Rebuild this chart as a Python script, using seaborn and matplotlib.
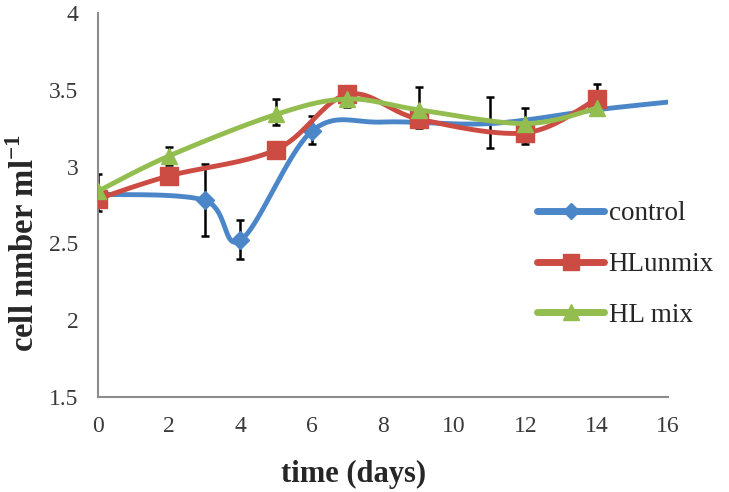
import numpy as np
import matplotlib
matplotlib.use("Agg")
import matplotlib.pyplot as plt
import seaborn as sns

# data
control_days = [0, 3, 4, 6, 8, 11, 14, 16]
control_vals = [2.82, 2.78, 2.52, 3.23, 3.29, 3.28, 3.37, 3.42]

unmix_days = [0, 2, 5, 7, 9, 12, 14]
unmix_vals = [2.79, 2.94, 3.11, 3.47, 3.31, 3.22, 3.44]

mix_days = [0, 2, 5, 7, 9, 12, 14]
mix_vals = [2.84, 3.07, 3.34, 3.44, 3.37, 3.28, 3.38]

# error bars (centre, half length)
err_days = [0, 2, 3, 4, 5, 6, 7, 9, 11, 12, 14]
err_mid = [2.83, 3.07, 2.785, 2.525, 3.355, 3.24, 3.45, 3.385, 3.285, 3.265, 3.44]
err_half = [0.12, 0.06, 0.235, 0.125, 0.085, 0.09, 0.06, 0.135, 0.165, 0.115, 0.10]

BLUE = "#4a86c8"
RED = "#cc4b43"
GREEN = "#93be4f"


def smooth(xs, ys, n=40):
    """Excel style smoothed line (bezier through the points)"""
    xs = np.asarray(xs, float)
    ys = np.asarray(ys, float)
    px = np.concatenate([[xs[0]], xs, [xs[-1]]])
    py = np.concatenate([[ys[0]], ys, [ys[-1]]])
    out_x, out_y = [], []
    t = np.linspace(0, 1, n)
    for i in range(1, len(px) - 2):
        p0 = np.array([px[i], py[i]])
        p3 = np.array([px[i + 1], py[i + 1]])
        c1 = p0 + (np.array([px[i + 1], py[i + 1]]) - np.array([px[i - 1], py[i - 1]])) / 6
        c2 = p3 - (np.array([px[i + 2], py[i + 2]]) - np.array([px[i], py[i]])) / 6
        b = ((1 - t) ** 3)[:, None] * p0 + (3 * (1 - t) ** 2 * t)[:, None] * c1 \
            + (3 * (1 - t) * t ** 2)[:, None] * c2 + (t ** 3)[:, None] * p3
        out_x.extend(b[:, 0])
        out_y.extend(b[:, 1])
    return np.array(out_x), np.array(out_y)


sns.set_style("white")
plt.rcParams["font.family"] = ["Liberation Serif", "DejaVu Serif"]
plt.rcParams["mathtext.fontset"] = "custom"
plt.rcParams["mathtext.rm"] = "Liberation Serif"
plt.rcParams["mathtext.bf"] = "Liberation Serif:bold"

fig = plt.figure(figsize=(7.29, 4.92), dpi=100)
ax = fig.add_axes([0.1344, 0.193, 0.7819, 0.7806])

series = [
    ("control", control_days, control_vals, BLUE, "D", 9, [0, 1, 2, 3]),
    ("HLunmix", unmix_days, unmix_vals, RED, "s", 13, None),
    ("HL mix", mix_days, mix_vals, GREEN, "^", 12, None),
]

ax.errorbar(err_days, err_mid, yerr=err_half, fmt="none", ecolor="black",
            elinewidth=1.8, capsize=3, capthick=1.8, zorder=2)

handles = []
for z, (name, d, v, col, mk, ms, every) in enumerate(series):
    sx, sy = smooth(d, v)
    sns.lineplot(x=sx, y=sy, ax=ax, color=col, linewidth=3.5, sort=False,
                 estimator=None, zorder=3 + z)
    mk_d = d if every is None else [d[i] for i in every]
    mk_v = v if every is None else [v[i] for i in every]
    ax.plot(mk_d, mk_v, linestyle="none", marker=mk, markersize=ms, color=col,
            zorder=3 + z)
    h, = ax.plot([], [], color=col, linewidth=5, marker=mk, markersize=ms - 1, label=name)
    handles.append(h)

ax.set_xlim(0, 16)
ax.set_ylim(1.5, 4)
ax.set_xticks(range(0, 17, 2))
ax.set_yticks([1.5, 2, 2.5, 3, 3.5, 4])
ax.set_yticklabels(["1.5", "2", "2.5", "3", "3.5", "4"])

for s in ["top", "right"]:
    ax.spines[s].set_visible(False)
for s in ["left", "bottom"]:
    ax.spines[s].set_color("#8c8c8c")
    ax.spines[s].set_linewidth(1.5)
ax.tick_params(axis="both", direction="out", length=6, width=1.5, color="#8c8c8c",
               labelsize=17, labelcolor="#3a3a3a", pad=8)

ax.set_xlabel("time (days)", fontsize=22, fontweight="bold")
ax.xaxis.set_label_coords(0.449, -0.165)
ax.set_ylabel(r"cell nmber ml$^{\mathbf{-1}}$", fontsize=23.5, fontweight="bold")
ax.yaxis.set_label_coords(-0.10, 0.40)

ax.legend(handles=handles, loc="center left", bbox_to_anchor=(0.727, 0.345),
          frameon=False, fontsize=19.5, handlelength=2.5, handletextpad=0.15,
          labelspacing=0.95, borderpad=0.4)

fig.savefig("out.png", dpi=100)
